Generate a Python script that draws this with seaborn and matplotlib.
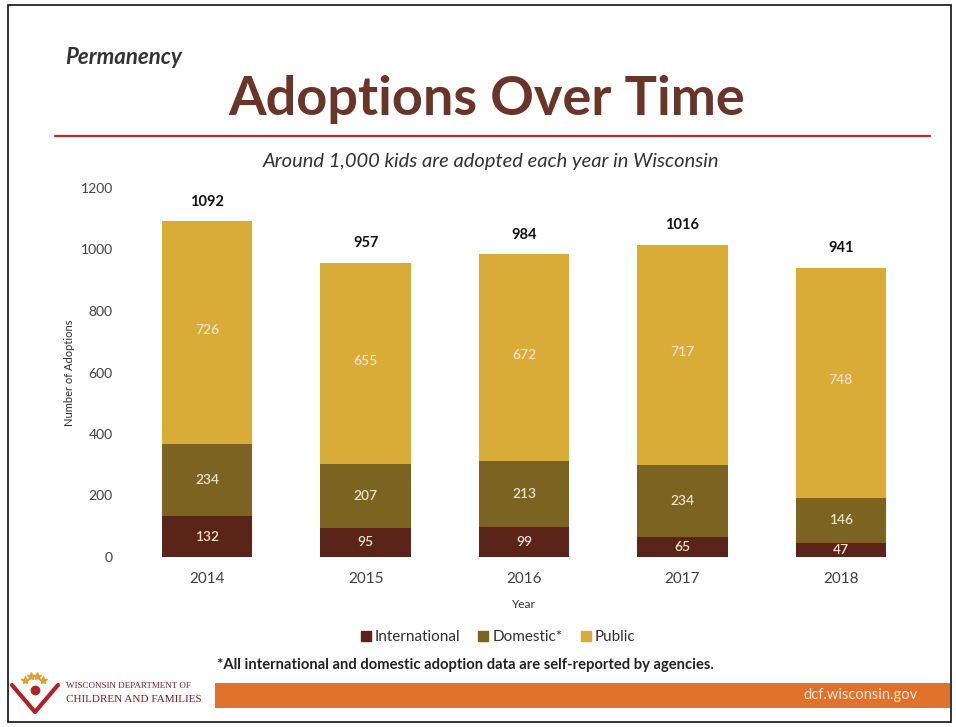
import matplotlib
matplotlib.use("Agg")
import matplotlib.pyplot as plt
import seaborn as sns
import pandas as pd
import numpy as np
from matplotlib.patches import Rectangle
from matplotlib.lines import Line2D

years = ["2014", "2015", "2016", "2017", "2018"]
international = [132, 95, 99, 65, 47]
domestic = [234, 207, 213, 234, 146]
public = [726, 655, 672, 717, 748]
totals = [1092, 957, 984, 1016, 941]
yticks = [0, 200, 400, 600, 800, 1000, 1200]

c_int = "#5a2419"
c_dom = "#7b6422"
c_pub = "#d8ac36"

sns.set_theme(style="white")
plt.rcParams['font.family'] = ['Lato', 'DejaVu Sans']

df = pd.DataFrame({"Year": years, "International": international,
                   "Domestic": domestic, "Public": public})
df["cum_dom"] = df["International"] + df["Domestic"]
df["cum_pub"] = df["cum_dom"] + df["Public"]

fig = plt.figure(figsize=(9.56, 7.27), dpi=100)
W, H = 956, 727
def fx(x): return x / W
def fy(y): return 1 - y / H

ax = fig.add_axes([fx(128), fy(557), fx(920) - fx(128), fy(188) - fy(557)])
for col, c in (("cum_pub", c_pub), ("cum_dom", c_dom), ("International", c_int)):
    sns.barplot(data=df, x="Year", y=col, color=c, width=0.57, ax=ax, saturation=1,
                linewidth=0, edgecolor="none")

ax.set_ylim(0, 1200)
ax.set_xlim(-0.5, 4.5)
ax.set_yticks(yticks)
ax.set_yticklabels([str(v) for v in yticks])
for s in ax.spines.values():
    s.set_visible(False)
ax.tick_params(axis="both", length=0, colors="#404040")
ax.tick_params(axis="y", pad=11, labelsize=10)
ax.tick_params(axis="x", pad=11, labelsize=11)
ax.set_xlabel("Year", fontsize=8.5, color="#303030", labelpad=9)
ax.set_ylabel("Number of Adoptions", fontsize=8, color="#303030", labelpad=4)

seg_color = "#ece0cc"
for i in range(len(years)):
    ax.text(i, international[i] / 2, str(international[i]), ha="center", va="center",
            fontsize=10, color=seg_color, fontweight="semibold")
    ax.text(i, international[i] + domestic[i] / 2, str(domestic[i]), ha="center", va="center",
            fontsize=10, color=seg_color, fontweight="semibold")
    ax.text(i, international[i] + domestic[i] + public[i] / 2 + 8, str(public[i]), ha="center",
            va="center", fontsize=10, color=seg_color, fontweight="semibold")
    ax.annotate(str(totals[i]), (i, totals[i]), xytext=(0, 14), textcoords="offset points",
                ha="center", va="center", fontsize=10.5, fontweight="bold", color="#111111")

# legend
handles = [Line2D([0], [0], marker="s", linestyle="", markersize=7, color=c)
           for c in (c_int, c_dom, c_pub)]
fig.legend(handles, ["International", "Domestic*", "Public"], loc="center",
           bbox_to_anchor=(fx(496), fy(637)), ncol=3, frameon=False, fontsize=11,
           handletextpad=0.0, handlelength=1.2, columnspacing=0.9, labelcolor="#303030")

# header
fig.text(fx(65), fy(57), "Permanency", fontsize=16, fontweight="bold", fontstyle="italic",
         color="#333333", ha="left", va="center")
fig.text(fx(487), fy(99), "Adoptions Over Time", fontsize=39, fontweight="bold",
         color="#6a3428", ha="center", va="center")
fig.add_artist(Line2D([fx(55), fx(930)], [fy(136), fy(136)], color="#c0272d", lw=1.6))
fig.text(fx(491), fy(161), "Around 1,000 kids are adopted each year in Wisconsin",
         fontsize=14.5, fontstyle="italic", color="#333333", ha="center", va="center")

# footer
fig.text(fx(465), fy(665), "*All international and domestic adoption data are self-reported by agencies.",
         fontsize=10.6, fontweight="bold", color="#222222", ha="center", va="center")
fig.add_artist(Rectangle((fx(215), fy(708)), fx(950) - fx(215), fy(683) - fy(708),
                         facecolor="#e0722c", edgecolor="none"))
fig.text(fx(918), fy(695), "dcf.wisconsin.gov", fontsize=10.5, color="#f6e6d8",
         ha="right", va="center")
fig.text(fx(66), fy(686), "WISCONSIN DEPARTMENT OF", fontsize=6.5, color="#7a1f24",
         ha="left", va="center", family=["Liberation Serif"])
fig.text(fx(66), fy(700), "CHILDREN AND FAMILIES", fontsize=8, color="#7a1f24",
         ha="left", va="center", family=["Liberation Serif"])
fig.add_artist(Line2D([fx(12), fx(35), fx(58)], [fy(685), fy(712), fy(685)],
                      color="#b0222a", lw=3))
fig.add_artist(Line2D([fx(35)], [fy(690)], marker="o", markersize=6, color="#b0222a"))
fig.add_artist(Line2D([fx(25), fx(31), fx(37), fx(43)], [fy(680), fy(676), fy(676), fy(680)],
                      marker="*", linestyle="", markersize=6, color="#e0a030"))

# border
fig.add_artist(Rectangle((fx(8), fy(722)), fx(951) - fx(8), fy(5) - fy(722),
                         facecolor="none", edgecolor="#111111", lw=1.2))

fig.savefig("out.png", dpi=100)
